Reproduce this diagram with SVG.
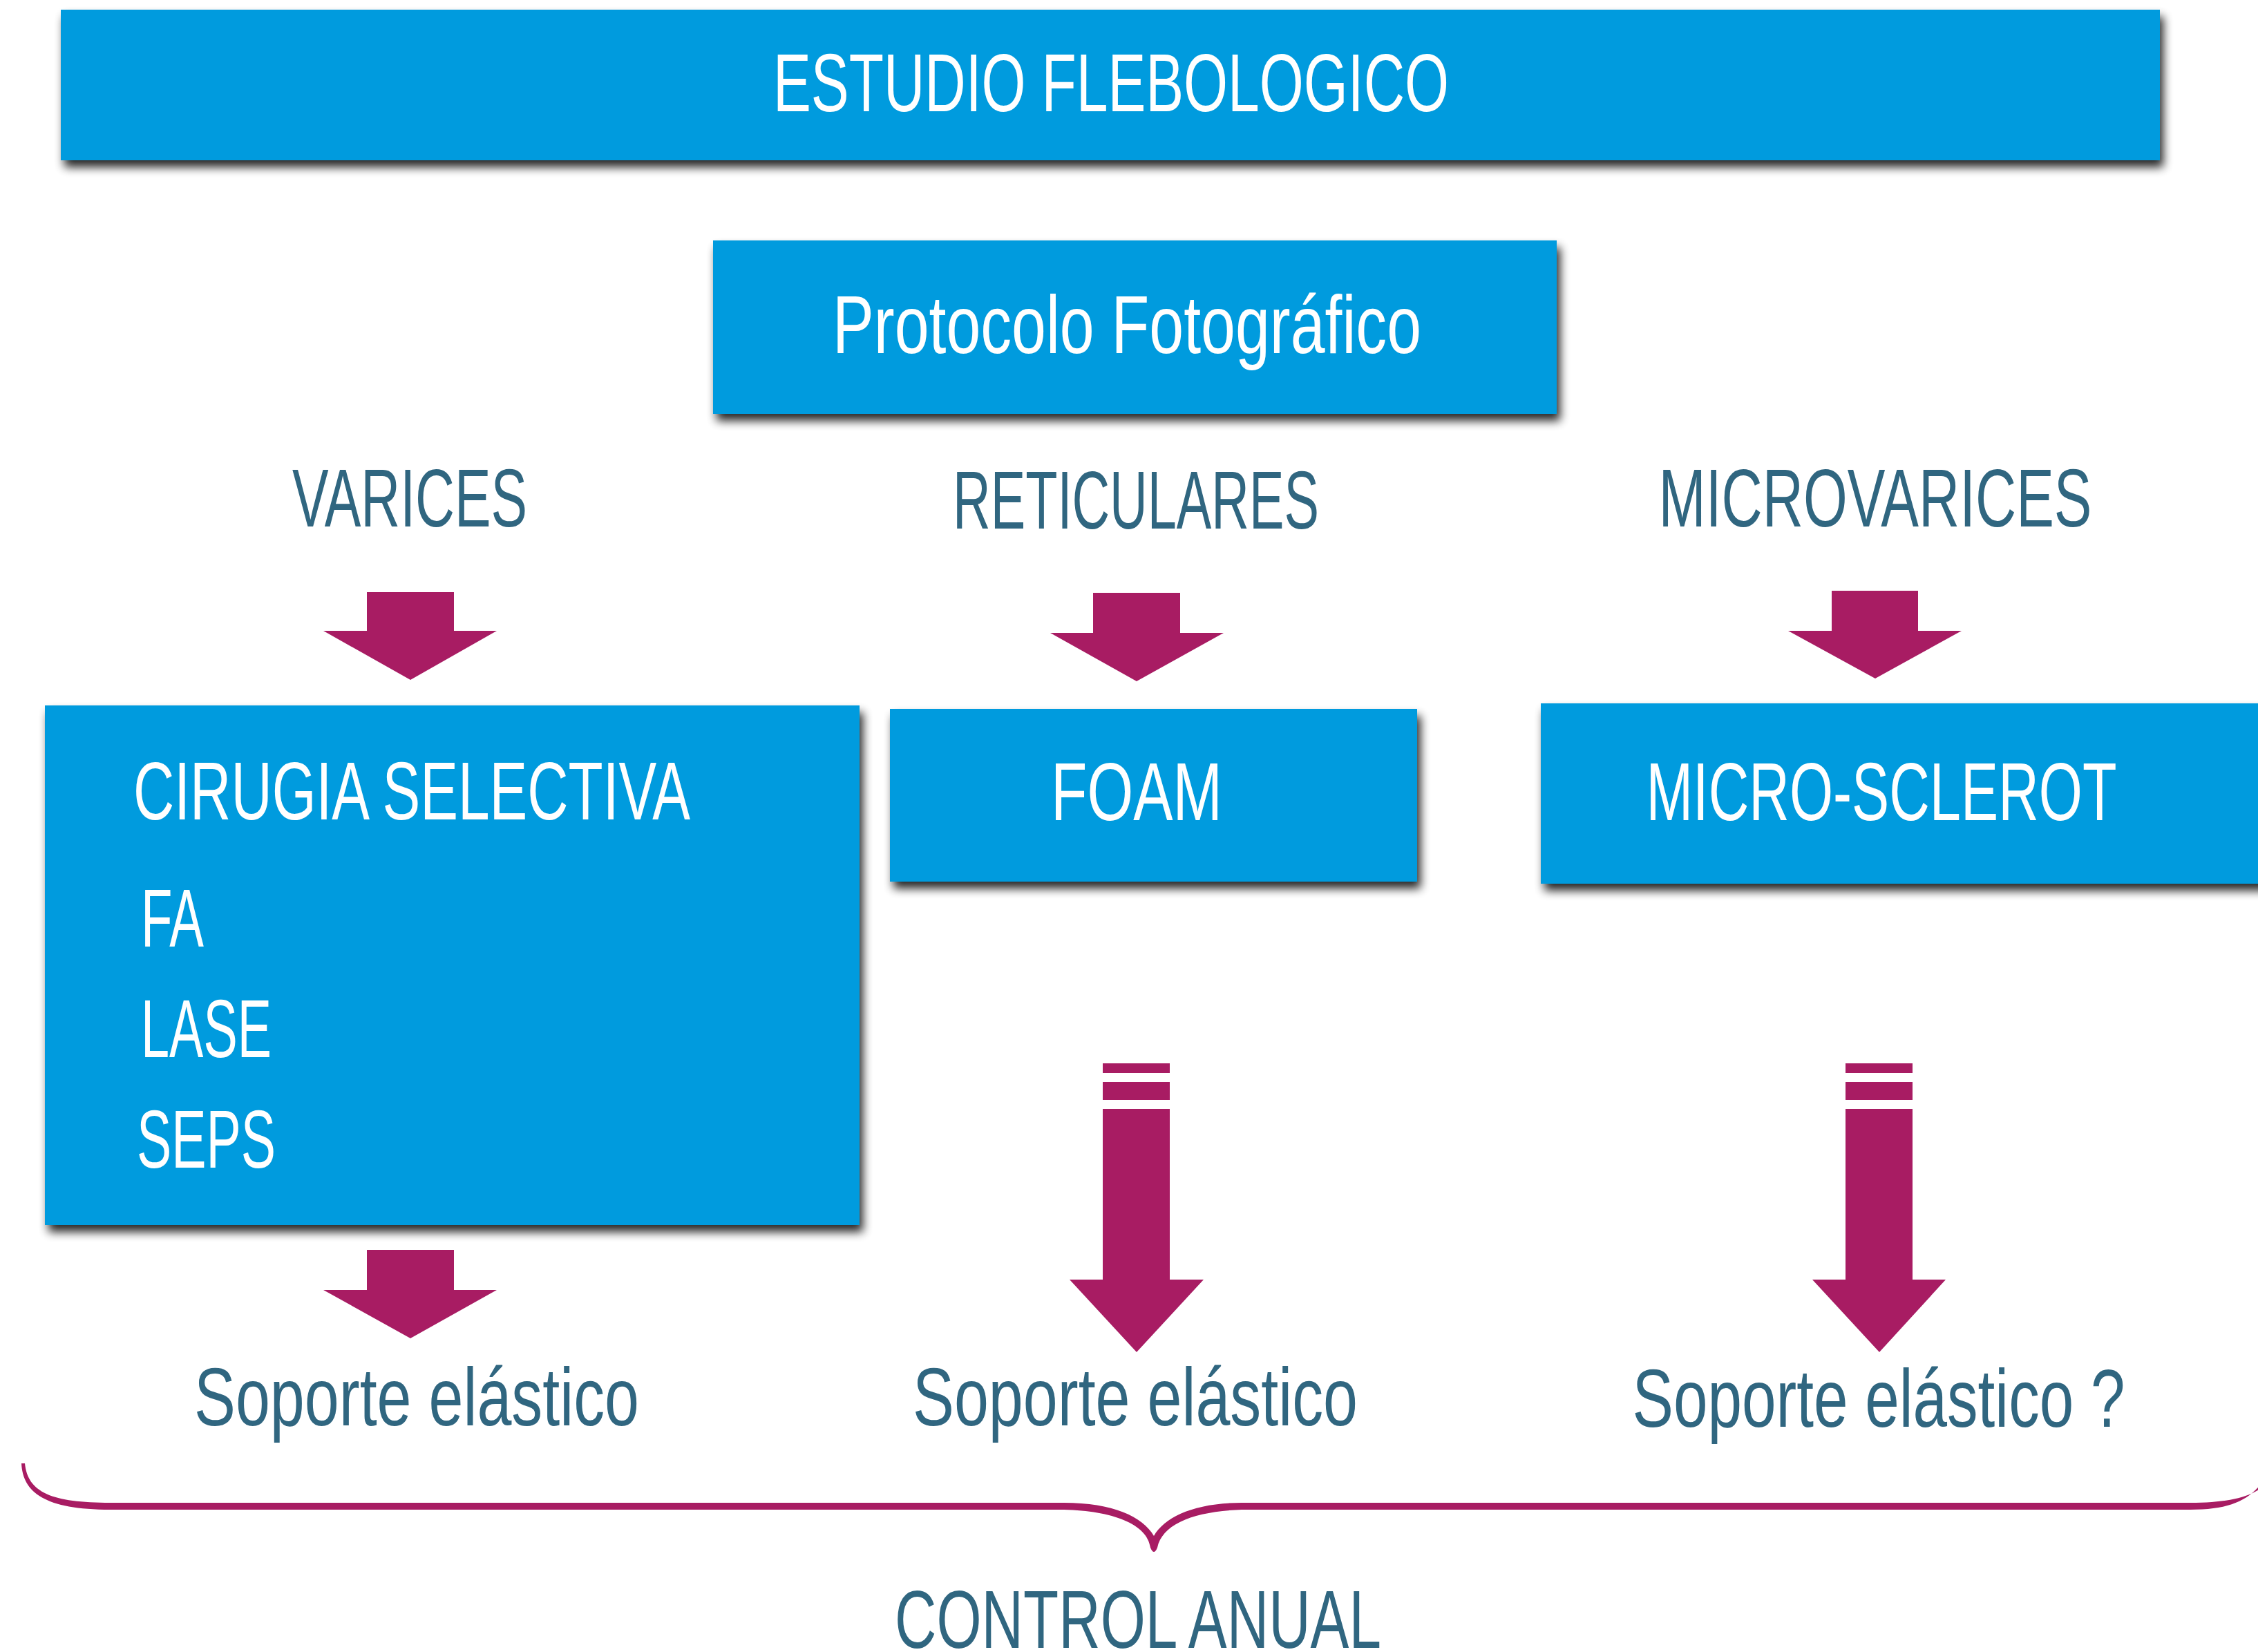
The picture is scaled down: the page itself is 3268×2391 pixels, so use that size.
<svg xmlns="http://www.w3.org/2000/svg" width="3268" height="2391" viewBox="0 0 3268 2391">
<defs>
<filter id="sh" x="-5%" y="-20%" width="112%" height="150%">
<feGaussianBlur in="SourceAlpha" stdDeviation="7"/>
<feOffset dx="5" dy="10" result="b"/>
<feComponentTransfer><feFuncA type="linear" slope="0.85"/></feComponentTransfer>
<feMerge><feMergeNode/><feMergeNode in="SourceGraphic"/></feMerge>
</filter>
</defs>
<style>
.box{fill:#009BDE;filter:url(#sh)}
.w{fill:#ffffff;font-family:"Liberation Sans",Arial,sans-serif;font-size:118px}
.t{fill:#306680;font-family:"Liberation Sans",Arial,sans-serif;font-size:118px}
.m{text-anchor:middle}
.ar{fill:#A81C63}
</style>
<rect width="3268" height="2391" fill="#ffffff"/>

<g id="estudio">
<rect class="box" x="88" y="14" width="3038" height="218"/>
<text class="w" x="1119" y="161" textLength="978" lengthAdjust="spacingAndGlyphs">ESTUDIO FLEBOLOGICO</text>
</g>
<g id="protocolo">
<rect class="box" x="1032" y="348" width="1221" height="251"/>
<text class="w" x="1205" y="511" textLength="852" lengthAdjust="spacingAndGlyphs">Protocolo Fotográfico</text>
</g>
<g id="varices">
<text class="t" x="423" y="762" textLength="340" lengthAdjust="spacingAndGlyphs">VARICES</text>
</g>
<g id="reticulares">
<text class="t" x="1379" y="765" textLength="530" lengthAdjust="spacingAndGlyphs">RETICULARES</text>
</g>
<g id="microvarices">
<text class="t m" x="2714" y="762" textLength="627" lengthAdjust="spacingAndGlyphs">MICROVARICES</text>
</g>
<g id="cirugia">
<rect class="box" x="65" y="1021" width="1179" height="752"/>
<text class="w" x="193" y="1186" textLength="806" lengthAdjust="spacingAndGlyphs">CIRUGIA SELECTIVA</text>
<text class="w" x="204" y="1370" textLength="91" lengthAdjust="spacingAndGlyphs">FA</text>
<text class="w" x="204" y="1530" textLength="189" lengthAdjust="spacingAndGlyphs">LASE</text>
<text class="w" x="198" y="1690" textLength="201" lengthAdjust="spacingAndGlyphs">SEPS</text>
</g>
<g id="foam">
<rect class="box" x="1288" y="1026" width="763" height="250"/>
<text class="w" x="1521" y="1187" textLength="248" lengthAdjust="spacingAndGlyphs">FOAM</text>
</g>
<g id="microsclerot">
<rect class="box" x="2230" y="1018" width="1100" height="261"/>
<text class="w m" x="2723" y="1187" textLength="681" lengthAdjust="spacingAndGlyphs">MICRO-SCLEROT</text>
</g>
<g id="soporte1">
<text class="t" x="281" y="2063" textLength="644" lengthAdjust="spacingAndGlyphs">Soporte elástico</text>
</g>
<g id="soporte2">
<text class="t" x="1321" y="2063" textLength="644" lengthAdjust="spacingAndGlyphs">Soporte elástico</text>
</g>
<g id="soporte3">
<text class="t m" x="2719" y="2065" textLength="713" lengthAdjust="spacingAndGlyphs">Soporte elástico ?</text>
</g>
<g id="control">
<text class="t" x="1295" y="2385" textLength="704" lengthAdjust="spacingAndGlyphs">CONTROL ANUAL</text>
</g>

<g id="connectors">
<polygon class="ar" points="531,857 657,857 657,913 719,913 594,984 468,913 531,913"/>
<polygon class="ar" points="1582,858 1708,858 1708,916 1771,916 1645,986 1520,916 1582,916"/>
<polygon class="ar" points="2651,855 2776,855 2776,913 2839,913 2714,982 2588,913 2651,913"/>
<polygon class="ar" points="531,1809 657,1809 657,1867 719,1867 594,1937 468,1867 531,1867"/>
<g class="ar">
<rect x="1596" y="1539" width="97" height="14"/>
<rect x="1596" y="1566" width="97" height="26"/>
<polygon points="1596,1605 1693,1605 1693,1852 1742,1852 1645,1957 1548,1852 1596,1852"/>
<rect x="2671" y="1539" width="97" height="14"/>
<rect x="2671" y="1566" width="97" height="26"/>
<polygon points="2671,1605 2768,1605 2768,1852 2816,1852 2720,1957 2623,1852 2671,1852"/>
</g>
<path class="ar" d="M 31 2118 C 33 2160, 65 2185, 160 2185 L 1540 2185 C 1610 2187, 1660 2205, 1665 2240 Q 1670 2252, 1675 2240 C 1682 2205, 1730 2187, 1797 2185 L 3170 2185 C 3240 2185, 3268 2165, 3290 2118 L 3296 2118 C 3286 2160, 3245 2175, 3170 2175 L 1797 2175 C 1730 2175, 1686 2195, 1670 2223 C 1654 2195, 1610 2175, 1540 2175 L 160 2175 C 75 2175, 40 2160, 36 2118 Z"/>
</g>
</svg>
